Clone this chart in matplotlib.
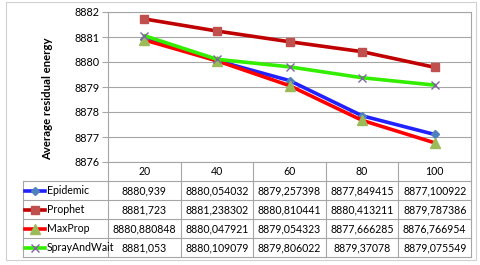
import numpy as np
import matplotlib.pyplot as plt
from matplotlib.patches import Rectangle
from matplotlib.lines import Line2D

plt.rcParams['font.family'] = ['Lato', 'DejaVu Sans']

categories = ['20', '40', '60', '80', '100']
names = ['Epidemic', 'Prophet', 'MaxProp', 'SprayAndWait']
epidemic = [8880.939, 8880.054032, 8879.257398, 8877.849415, 8877.100922]
prophet = [8881.723, 8881.238302, 8880.810441, 8880.413211, 8879.787386]
maxprop = [8880.880848, 8880.047921, 8879.054323, 8877.666285, 8876.766954]
spray = [8881.053, 8880.109079, 8879.806022, 8879.37078, 8879.075549]
labels = [
    ['8880,939', '8880,054032', '8879,257398', '8877,849415', '8877,100922'],
    ['8881,723', '8881,238302', '8880,810441', '8880,413211', '8879,787386'],
    ['8880,880848', '8880,047921', '8879,054323', '8877,666285', '8876,766954'],
    ['8881,053', '8880,109079', '8879,806022', '8879,37078', '8879,075549'],
]
series = [epidemic, prophet, maxprop, spray]

styles = [
    dict(color='#2222FF', marker='D', mfc='#4F81BD', mec='#4F81BD', ms=4.5),
    dict(color='#C00000', marker='s', mfc='#C0504D', mec='#C0504D', ms=5.5),
    dict(color='#FF0000', marker='^', mfc='#9BBB59', mec='#9BBB59', ms=6.5),
    dict(color='#33EE00', marker='x', mfc='#8064A2', mec='#8064A2', ms=6, mew=1),
]

W, H = 480, 265
fig = plt.figure(figsize=(4.8, 2.65), dpi=100)
left, right, top, bottom = 108, 471, 12, 162
ax = fig.add_axes([left / W, 1 - bottom / H, (right - left) / W, (bottom - top) / H])

x = np.arange(len(categories)) + 0.5
for s, st in zip(series, styles):
    ax.plot(x, s, lw=2.6, solid_capstyle='round', **st)

ax.set_xlim(0, len(categories))
ax.set_ylim(8876, 8882)
ax.set_yticks(range(8876, 8883))
ax.set_xticks([])
ax.grid(axis='y', color='#A6A6A6', lw=0.8)
ax.set_axisbelow(True)
for sp in ax.spines.values():
    sp.set_color('#A6A6A6')
    sp.set_linewidth(0.8)
ax.tick_params(axis='y', length=4, color='#A6A6A6', labelsize=7.8, pad=2)

# data table below the plot
row_h = 19
hdr_bot = 181
gc = '#A6A6A6'
fs = 7.6
def fy(py):
    return 1 - py / H
def fx(px):
    return px / W
col_w = (right - left) / len(categories)
tb_bot = hdr_bot + row_h * len(names)
for i in range(len(categories) + 1):
    xx = left + i * col_w
    fig.add_artist(Line2D([fx(xx)] * 2, [fy(bottom), fy(tb_bot)], color=gc, lw=0.8))
for i, c in enumerate(categories):
    fig.text(fx(left + (i + 0.5) * col_w), fy((bottom + hdr_bot) / 2), c,
             ha='center', va='center', fontsize=fs)
lx0 = 23
for r in range(len(names) + 1):
    yy = hdr_bot + r * row_h
    fig.add_artist(Line2D([fx(lx0), fx(right)], [yy and fy(yy)] * 2, color=gc, lw=0.8))
fig.add_artist(Line2D([fx(lx0)] * 2, [fy(hdr_bot), fy(tb_bot)], color=gc, lw=0.8))
for r, name in enumerate(names):
    yc = fy(hdr_bot + (r + 0.5) * row_h)
    st = styles[r]
    fig.add_artist(Line2D([fx(25), fx(45)], [yc, yc], lw=2.6, color=st['color']))
    fig.add_artist(Line2D([fx(35)], [yc], ls='none', marker=st['marker'], mfc=st['mfc'],
                          mec=st['mec'], ms=st['ms'], mew=st.get('mew', 1)))
    fig.text(fx(47), yc, name, ha='left', va='center', fontsize=fs)
    for i, t in enumerate(labels[r]):
        fig.text(fx(left + (i + 0.5) * col_w), yc, t, ha='center', va='center', fontsize=fs)

fig.text(fx(48), fy(99), 'Average residual energy', rotation=90, ha='center', va='center',
         fontsize=8.2, fontweight='bold')

fig.add_artist(Rectangle((fx(6), fy(260)), fx(470), 258 / H, fill=False, ec='#D0D0D0', lw=0.8))

fig.savefig('out.png', dpi=100)
